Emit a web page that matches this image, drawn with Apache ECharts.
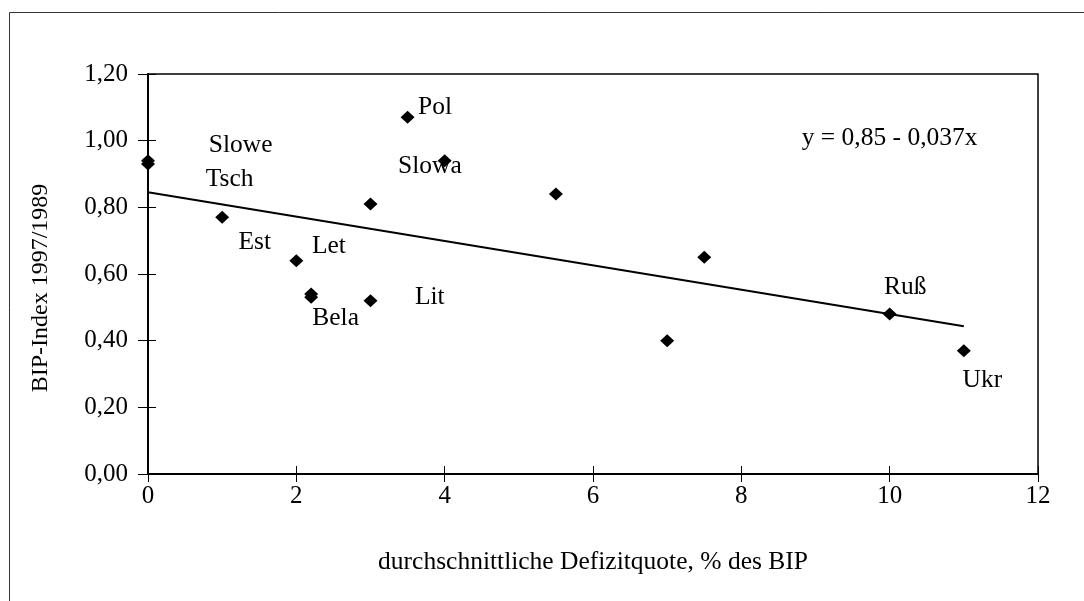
<!DOCTYPE html>
<html>
<head>
<meta charset="utf-8">
<script src="https://cdn.jsdelivr.net/npm/echarts@6/dist/echarts.min.js"></script>
<style>
html,body{margin:0;padding:0;background:#fff;}
#chart{width:1084px;height:601px;}
</style>
</head>
<body>
<div id="chart"></div>
<script>
// Data points (Defizitquote, BIP-Index)
const pointX = [0, 0, 1, 2, 2.2, 2.2, 3, 3, 3.5, 4, 5.5, 7, 7.5, 10, 11];
const pointY = [0.94, 0.93, 0.77, 0.64, 0.54, 0.53, 0.52, 0.81, 1.07, 0.94, 0.84, 0.40, 0.65, 0.48, 0.37];

// Regression line endpoints
const trendX = [0, 11];
const trendY = [0.845, 0.443];

// Country labels placed in data coordinates
const labelNames = ['Slowe', 'Tsch', 'Est', 'Let', 'Bela', 'Lit', 'Pol', 'Slowa', 'Ruß', 'Ukr', 'y = 0,85 - 0,037x'];
const labelX = [1.25, 1.10, 1.44, 2.44, 2.53, 3.80, 3.87, 3.80, 10.21, 11.25, 10.0];
const labelY = [0.985, 0.885, 0.695, 0.682, 0.467, 0.530, 1.10, 0.922, 0.560, 0.282, 1.008];

const xTicks = {min: 0, max: 12, interval: 2};
const yTicks = {min: 0, max: 1.2, interval: 0.2};

const xName = 'durchschnittliche Defizitquote, % des BIP';
const yName = 'BIP-Index 1997/1989';

const FONT = '"Liberation Serif", "Times New Roman", serif';

const chart = echarts.init(document.getElementById('chart'), null, {renderer: 'canvas'});

const scatterData = pointX.map((x, i) => [x, pointY[i]]);
const trendData = trendX.map((x, i) => [x, trendY[i]]);
const labelData = labelNames.map((n, i) => ({value: [labelX[i], labelY[i]], name: n}));

const fmt = v => v.toFixed(2).replace('.', ',');

chart.setOption({
  animation: false,
  backgroundColor: '#fff',
  textStyle: {fontFamily: FONT, color: '#000'},
  graphic: [{
    type: 'rect',
    silent: true,
    z: -10,
    shape: {x: 9.5, y: 12.5, width: 1200, height: 1000},
    style: {fill: 'none', stroke: '#333', lineWidth: 1}
  }],
  grid: {
    left: 148, top: 74, right: 46, bottom: 127,
    show: true, borderColor: '#000', borderWidth: 1.5, backgroundColor: 'transparent'
  },
  xAxis: [{
    type: 'value',
    min: xTicks.min, max: xTicks.max, interval: xTicks.interval,
    name: xName, nameLocation: 'middle', nameGap: 75,
    nameTextStyle: {fontFamily: FONT, fontSize: 25.5, color: '#000'},
    axisLine: {show: true, lineStyle: {color: '#000', width: 2}},
    axisTick: {show: true, length: 8, lineStyle: {color: '#000', width: 1}},
    axisLabel: {fontFamily: FONT, fontSize: 25, color: '#000', margin: 10},
    splitLine: {show: false}
  }, {
    type: 'value', position: 'bottom',
    min: xTicks.min, max: xTicks.max, interval: xTicks.interval,
    axisLine: {show: false},
    axisTick: {show: true, inside: true, length: 8, lineStyle: {color: '#000', width: 1}},
    axisLabel: {show: false},
    splitLine: {show: false}
  }],
  yAxis: [{
    type: 'value',
    min: yTicks.min, max: yTicks.max, interval: yTicks.interval,
    name: yName, nameLocation: 'middle', nameGap: 95, nameRotate: 90,
    nameTextStyle: {fontFamily: FONT, fontSize: 24, color: '#000', padding: [0, 28, 0, 0]},
    axisLine: {show: true, lineStyle: {color: '#000', width: 2}},
    axisTick: {show: true, length: 10, lineStyle: {color: '#000', width: 1}},
    axisLabel: {fontFamily: FONT, fontSize: 25, color: '#000', margin: 20, formatter: fmt, padding: [8, 0, 0, 0]},
    splitLine: {show: false}
  }, {
    type: 'value', position: 'left',
    min: yTicks.min, max: yTicks.max, interval: yTicks.interval,
    axisLine: {show: false},
    axisTick: {show: true, inside: true, length: 8, lineStyle: {color: '#000', width: 1}},
    axisLabel: {show: false},
    splitLine: {show: false}
  }],
  series: [{
    type: 'line',
    data: trendData,
    symbol: 'none',
    lineStyle: {color: '#000', width: 2},
    z: 2
  }, {
    type: 'scatter',
    data: scatterData,
    symbol: 'diamond',
    symbolSize: [14, 13],
    itemStyle: {color: '#000', opacity: 1},
    z: 3
  }, {
    type: 'scatter',
    data: labelData,
    symbolSize: 0,
    silent: true,
    itemStyle: {opacity: 1},
    label: {
      show: true, position: 'inside',
      formatter: p => p.name,
      fontFamily: FONT, fontSize: 25.5, color: '#000', opacity: 1
    },
    z: 4
  }]
});
</script>
</body>
</html>
